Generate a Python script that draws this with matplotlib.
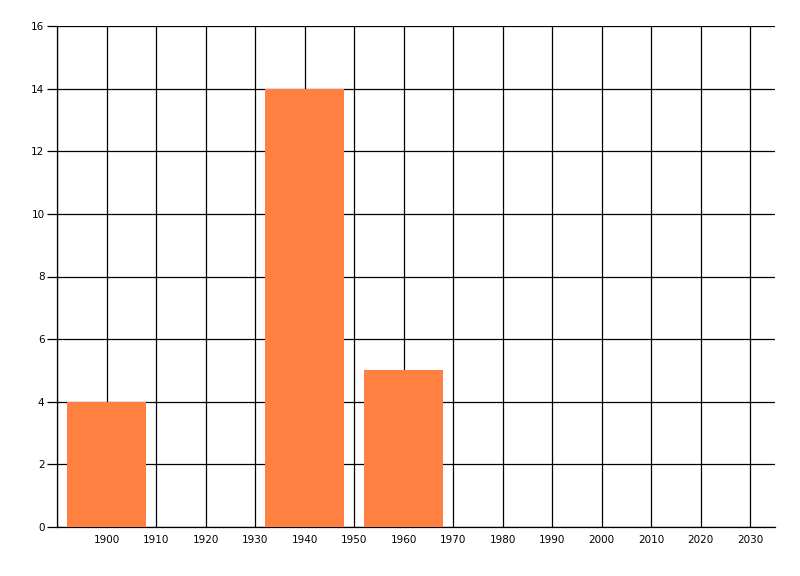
import matplotlib
matplotlib.use('Agg')
import matplotlib.pyplot as plt

years = [1900, 1940, 1960]
counts = [4, 14, 5]
xticks = list(range(1900, 2031, 10))
yticks = list(range(0, 17, 2))

fig = plt.figure(figsize=(8, 5.76), dpi=100)
ax = fig.add_axes([57 / 800, 1 - 527 / 576, 718 / 800, 501 / 576])

ax.bar(years, counts, width=16, color='#FF8040', zorder=3)

ax.set_xlim(1890, 2035)
ax.set_ylim(0, 16)
ax.set_xticks(xticks)
ax.set_yticks(yticks)
ax.set_xticks(range(1890, 2031, 10), minor=True)

ax.grid(True, which='major', color='black', linewidth=0.9, zorder=0)
ax.grid(True, which='minor', axis='x', color='black', linewidth=0.9, zorder=0)

for s in ['top', 'right']:
    ax.spines[s].set_visible(False)
ax.spines['left'].set_linewidth(0.9)
ax.spines['bottom'].set_linewidth(0.9)

ax.tick_params(axis='x', which='both', length=0, pad=6, labelsize=7.5)
ax.tick_params(axis='y', length=7, width=0.9, pad=2, labelsize=7.5)

fig.savefig('out.png', dpi=100)
